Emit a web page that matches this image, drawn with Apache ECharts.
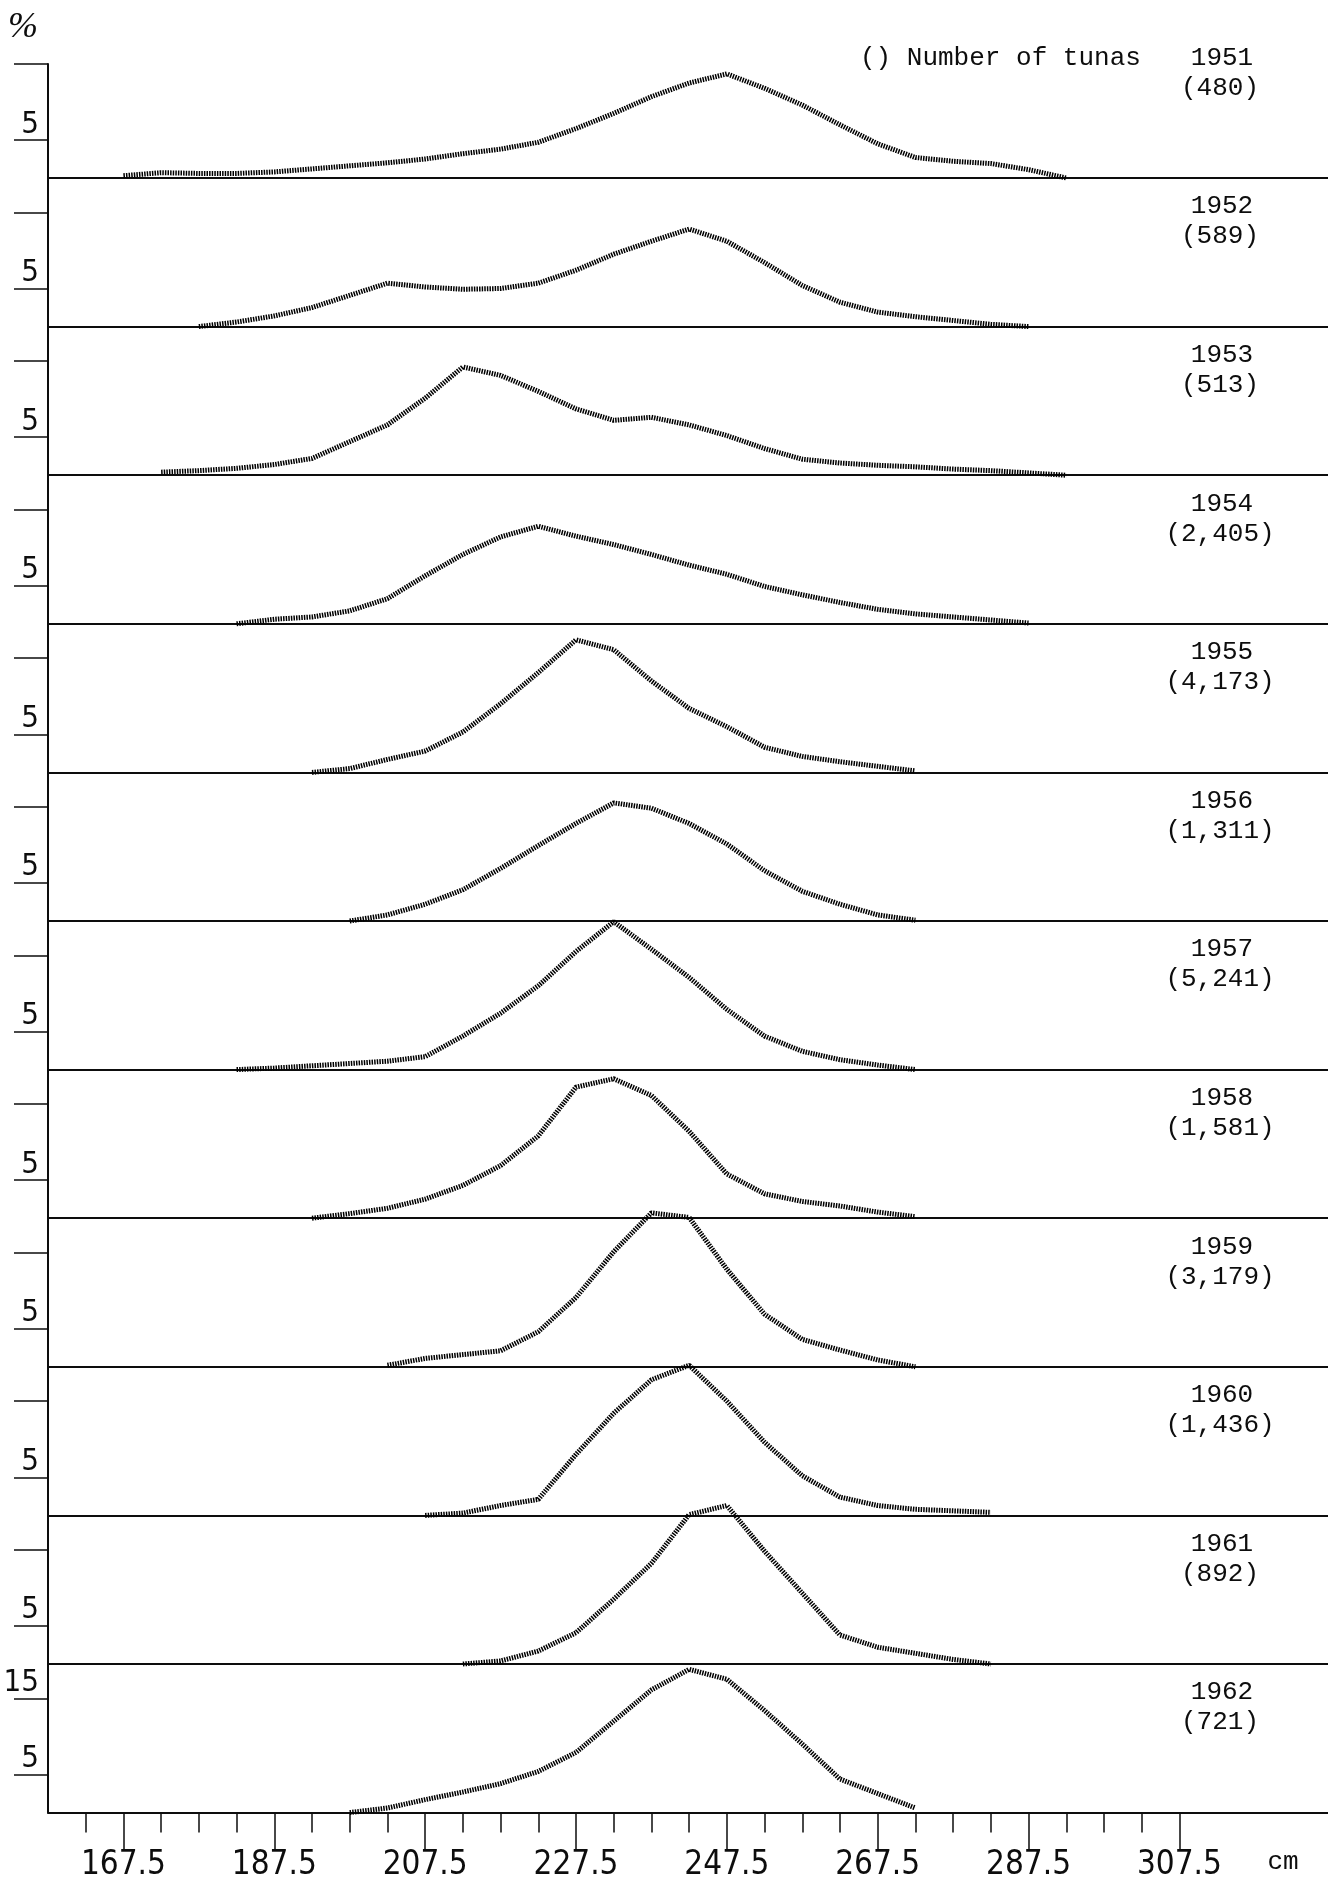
<!DOCTYPE html>
<html>
<head>
<meta charset="utf-8">
<style>
  html, body { margin: 0; padding: 0; background: #fff; }
  #chart { width: 1328px; height: 1884px; }
</style>
<script src="https://cdn.jsdelivr.net/npm/echarts@6/dist/echarts.min.js"></script>
</head>
<body>
<div id="chart"></div>
<script>
// length classes (cm)
const lengths = [162.5, 167.5, 172.5, 177.5, 182.5, 187.5, 192.5, 197.5, 202.5, 207.5, 212.5, 217.5, 222.5,
  227.5, 232.5, 237.5, 242.5, 247.5, 252.5, 257.5, 262.5, 267.5, 272.5, 277.5, 282.5, 287.5, 292.5];

const years = ['1951', '1952', '1953', '1954', '1955', '1956', '1957', '1958', '1959', '1960', '1961', '1962'];
const counts = ['(480)', '(589)', '(513)', '(2,405)', '(4,173)', '(1,311)', '(5,241)', '(1,581)', '(3,179)', '(1,436)', '(892)', '(721)'];

// percent by length class, one array per year
const p1951 = [null, 0.3, 0.7, 0.6, 0.6, 0.8, 1.2, 1.6, 2.0, 2.5, 3.2, 3.8, 4.7, 6.5, 8.5, 10.7, 12.5, 13.7, 11.8, 9.6, 7.0, 4.5, 2.7, 2.2, 1.9, 1.1, 0];
const p1952 = [null, null, null, 0, 0.6, 1.4, 2.5, 4.1, 5.7, 5.2, 4.9, 5.0, 5.7, 7.4, 9.5, 11.2, 12.8, 11.2, 8.4, 5.4, 3.2, 1.9, 1.3, 0.8, 0.3, 0, null];
const p1953 = [null, null, 0.4, 0.6, 0.9, 1.4, 2.2, 4.4, 6.6, 10.1, 14.2, 13.1, 11.0, 8.7, 7.2, 7.6, 6.6, 5.2, 3.5, 2.1, 1.6, 1.3, 1.1, 0.8, 0.6, 0.3, 0];
const p1954 = [null, null, null, null, 0, 0.6, 0.9, 1.7, 3.3, 6.3, 9.1, 11.4, 12.8, 11.5, 10.4, 9.1, 7.7, 6.5, 4.9, 3.8, 2.8, 1.9, 1.3, 0.9, 0.5, 0.1, null];
const p1955 = [null, null, null, null, null, null, 0, 0.5, 1.7, 2.8, 5.3, 9.0, 13.1, 17.4, 16.1, 12.0, 8.4, 6.0, 3.3, 2.1, 1.4, 0.8, 0.2, null, null, null, null];
const p1956 = [null, null, null, null, null, null, null, 0, 0.8, 2.2, 4.1, 6.9, 9.9, 12.8, 15.5, 14.8, 12.8, 10.1, 6.6, 3.9, 2.2, 0.8, 0.1, null, null, null, null];
const p1957 = [null, null, null, null, 0, 0.2, 0.5, 0.8, 1.1, 1.7, 4.4, 7.4, 11.0, 15.5, 19.4, 15.8, 12.1, 7.9, 4.4, 2.4, 1.3, 0.6, 0, null, null, null, null];
const p1958 = [null, null, null, null, null, null, 0, 0.6, 1.3, 2.5, 4.3, 6.9, 10.8, 17.2, 18.3, 16.1, 11.4, 5.8, 3.2, 2.2, 1.6, 0.8, 0.2, null, null, null, null];
const p1959 = [null, null, null, null, null, null, null, null, 0.2, 1.1, 1.6, 2.1, 4.6, 9.1, 15.1, 20.2, 19.6, 12.8, 6.9, 3.6, 2.2, 0.9, 0, null, null, null, null];
const p1960 = [null, null, null, null, null, null, null, null, null, 0, 0.3, 1.3, 2.1, 8.0, 13.4, 17.8, 19.7, 15.0, 9.6, 5.2, 2.4, 1.3, 0.8, 0.6, 0.4, null, null];
const p1961 = [null, null, null, null, null, null, null, null, null, null, 0, 0.4, 1.7, 4.1, 8.5, 13.2, 19.6, 20.8, 14.8, 9.3, 3.8, 2.2, 1.4, 0.6, 0, null, null];
const p1962 = [null, null, null, null, null, null, null, 0, 0.6, 1.7, 2.7, 3.8, 5.4, 7.9, 12.0, 16.1, 18.8, 17.5, 13.4, 9.0, 4.4, 2.5, 0.6, null, null, null, null];
const percents = [p1951, p1952, p1953, p1954, p1955, p1956, p1957, p1958, p1959, p1960, p1961, p1962];

// x axis: labelled ticks and small ticks
const majorTicks = [167.5, 187.5, 207.5, 227.5, 247.5, 267.5, 287.5, 307.5];
const minorTicks = [162.5, 172.5, 177.5, 182.5, 192.5, 197.5, 202.5, 212.5, 217.5, 222.5, 232.5, 237.5, 242.5,
  252.5, 257.5, 262.5, 272.5, 277.5, 282.5, 292.5, 297.5, 302.5];

const ink = '#0d0d0d';
const monoFont = '"Liberation Mono", "DejaVu Sans Mono", monospace';
const narrowFont = '"Liberation Sans Narrow", "DejaVu Sans Condensed", "DejaVu Sans", sans-serif';

const firstBase = 178;
const step = 148.6;
const last = years.length - 1;

const grids = [];
const xAxes = [];
const yAxes = [];
const series = [];
const texts = [];

years.forEach((year, i) => {
  const base = firstBase + step * i;
  const top = i === 0 ? 64 : base - step;
  // fixed placement, labels may sit outside the grid box
  grids.push({ left: 48, right: 0, top: top, height: base - top, containLabel: false, outerBoundsMode: 'none' });

  xAxes.push({
    gridIndex: i,
    type: 'value',
    min: 157.5,
    max: 327.2,
    position: 'bottom',
    axisLine: { show: true, onZero: false, lineStyle: { color: ink, width: 2 } },
    axisTick: i === last
      ? { show: true, customValues: majorTicks, length: 38, lineStyle: { color: ink, width: 1.5 } }
      : { show: false },
    axisLabel: i === last
      ? { show: true, customValues: majorTicks, margin: 36, color: ink, fontSize: 33, fontFamily: narrowFont,
          formatter: v => v.toFixed(1) }
      : { show: false },
    splitLine: { show: false }
  });

  yAxes.push({
    gridIndex: i,
    type: 'value',
    min: 0,
    max: i === 0 ? 15 : 19.5,
    axisLine: { show: true, lineStyle: { color: ink, width: 2 } },
    axisTick: { show: true, customValues: [5, 15], length: 34, lineStyle: { color: ink, width: 1.5 } },
    axisLabel: {
      show: true,
      customValues: i === last ? [5, 15] : [5],
      verticalAlign: 'bottom',
      margin: 9,
      color: ink,
      fontSize: 31,
      fontFamily: narrowFont
    },
    splitLine: { show: false }
  });

  series.push({
    type: 'line',
    xAxisIndex: i,
    yAxisIndex: i,
    data: lengths.map((x, k) => [x, percents[i][k]]),
    symbol: 'none',
    clip: false,
    silent: true,
    lineStyle: { color: '#000', width: 5, type: [1.5, 1.1], cap: 'butt' }
  });

  texts.push({
    type: 'text', x: 1222, y: base - 120,
    style: { text: year, fill: ink, font: '26px ' + monoFont, align: 'center', verticalAlign: 'middle' }
  });
  texts.push({
    type: 'text', x: 1220, y: base - 90,
    style: { text: counts[i], fill: ink, font: '26px ' + monoFont, align: 'center', verticalAlign: 'middle' }
  });
});

// small ticks on the bottom axis
xAxes.push({
  gridIndex: last,
  type: 'value',
  min: 157.5,
  max: 327.2,
  position: 'bottom',
  axisLine: { show: false },
  axisTick: { show: true, customValues: minorTicks, length: 20, lineStyle: { color: ink, width: 1.5 } },
  axisLabel: { show: false },
  splitLine: { show: false }
});

texts.push({
  type: 'text', x: 860, y: 58,
  style: { text: '() Number of tunas', fill: ink, font: '26px ' + monoFont, align: 'left', verticalAlign: 'middle' }
});
texts.push({
  type: 'text', x: 23, y: 28,
  style: { text: '%', fill: ink, font: 'italic 36px "Liberation Serif", serif', align: 'center', verticalAlign: 'middle' }
});
texts.push({
  type: 'text', x: 1283, y: 1862,
  style: { text: 'cm', fill: ink, font: '26px ' + monoFont, align: 'center', verticalAlign: 'middle' }
});

const myChart = echarts.init(document.getElementById('chart'));
myChart.setOption({
  animation: false,
  backgroundColor: '#fff',
  grid: grids,
  xAxis: xAxes,
  yAxis: yAxes,
  series: series,
  graphic: texts
});
</script>
</body>
</html>
